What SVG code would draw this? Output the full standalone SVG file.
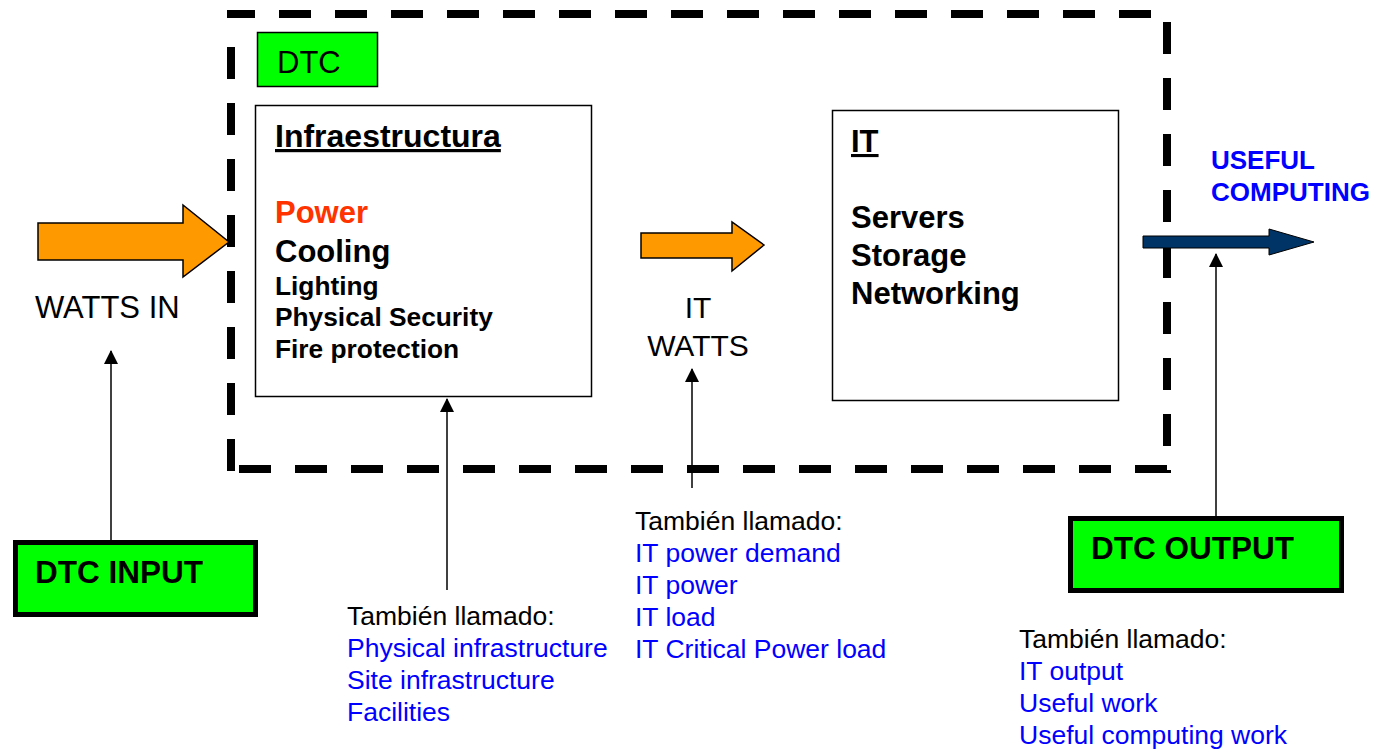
<svg xmlns="http://www.w3.org/2000/svg" width="1374" height="751" viewBox="0 0 1374 751">
<defs>
<style>
text{font-family:"Liberation Sans",Arial,sans-serif;}
.b{font-weight:bold;}
.blue{fill:#0000FF;}
.dash{stroke:#000;stroke-width:8;fill:none;stroke-dasharray:32 24;}
.box{fill:#fff;stroke:#000;stroke-width:1.5;}
.green{fill:#00FF00;stroke:#000;}
.thin{stroke:#000;stroke-width:1.5;fill:none;marker-end:url(#ah);}
</style>
<marker id="ah" viewBox="0 0 14 14" refX="13" refY="7" markerWidth="14" markerHeight="14" markerUnits="userSpaceOnUse" orient="auto">
<path d="M0,0 L14,7 L0,14 z" fill="#000"/>
</marker>
</defs>
<rect width="1374" height="751" fill="#fff"/>

<g id="dtc-boundary">
<path class="dash" d="M227 14 H1171" stroke-dashoffset="4"/>
<path class="dash" d="M1167 22 V473"/>
<path class="dash" d="M239 469 H1171"/>
<path class="dash" d="M231 47 V471"/>
</g>

<g id="dtc-label">
<rect class="green" x="257.5" y="32.5" width="120" height="54" stroke-width="1.5"/>
<text x="277" y="73" font-size="31">DTC</text>
</g>

<g id="infra">
<rect class="box" x="255.5" y="105.5" width="336" height="291"/>
<text class="b" x="275" y="147" font-size="32" text-decoration="underline">Infraestructura</text>
<text class="b" x="275" y="223" font-size="31" fill="#FF3300">Power</text>
<text class="b" x="275" y="262" font-size="31">Cooling</text>
<text class="b" x="275" y="295" font-size="26.3">Lighting</text>
<text class="b" x="275" y="326" font-size="26.3">Physical Security</text>
<text class="b" x="275" y="358" font-size="26.3">Fire protection</text>
</g>

<g id="it">
<rect class="box" x="832.5" y="110.5" width="286" height="290"/>
<text class="b" x="851" y="152" font-size="31" text-decoration="underline">IT</text>
<text class="b" x="851" y="228" font-size="31">Servers</text>
<text class="b" x="851" y="266" font-size="31">Storage</text>
<text class="b" x="851" y="304" font-size="31">Networking</text>
</g>

<g id="connectors">
<polygon points="38,223 183,223 183,205 229,242 183,277 183,260 38,260" fill="#FF9900" stroke="#000" stroke-width="1.5"/>
<polygon points="641,233 732,233 732,222 764,245 732,271 732,258 641,258" fill="#FF9900" stroke="#000" stroke-width="1.5"/>
<polygon points="1143,236 1269,236 1269,229 1314,242 1269,255 1269,248 1143,248" fill="#003366" stroke="#000" stroke-width="1"/>
<line class="thin" x1="111" y1="540" x2="111" y2="351"/>
<line class="thin" x1="447" y1="590" x2="447" y2="399"/>
<line class="thin" x1="692" y1="488" x2="692" y2="369"/>
<line class="thin" x1="1216" y1="516" x2="1216" y2="254"/>
</g>

<g id="watts-in">
<text x="35" y="318" font-size="31">WATTS IN</text>
</g>

<g id="it-watts">
<text x="698" y="318" font-size="30" text-anchor="middle">IT</text>
<text x="698" y="356" font-size="30" text-anchor="middle">WATTS</text>
</g>

<g id="useful-computing">
<text class="b blue" x="1211" y="169" font-size="26">USEFUL</text>
<text class="b blue" x="1211" y="201" font-size="26">COMPUTING</text>
</g>

<g id="dtc-input">
<rect class="green" x="15.5" y="542.5" width="240" height="72" stroke-width="5"/>
<text class="b" x="35" y="583" font-size="31.5">DTC INPUT</text>
</g>

<g id="dtc-output">
<rect class="green" x="1070.5" y="518.5" width="271" height="72" stroke-width="5"/>
<text class="b" x="1091" y="559" font-size="31.5">DTC OUTPUT</text>
</g>

<g id="aka-infra" font-size="26.5">
<text x="347" y="625">También llamado:</text>
<text class="blue" x="347" y="657">Physical infrastructure</text>
<text class="blue" x="347" y="689">Site infrastructure</text>
<text class="blue" x="347" y="721">Facilities</text>
</g>

<g id="aka-it" font-size="26.5">
<text x="635" y="530">También llamado:</text>
<text class="blue" x="635" y="562">IT power demand</text>
<text class="blue" x="635" y="594">IT power</text>
<text class="blue" x="635" y="626">IT load</text>
<text class="blue" x="635" y="658">IT Critical Power load</text>
</g>

<g id="aka-output" font-size="26.5">
<text x="1019" y="648">También llamado:</text>
<text class="blue" x="1019" y="680">IT output</text>
<text class="blue" x="1019" y="712">Useful work</text>
<text class="blue" x="1019" y="744">Useful computing work</text>
</g>
</svg>
